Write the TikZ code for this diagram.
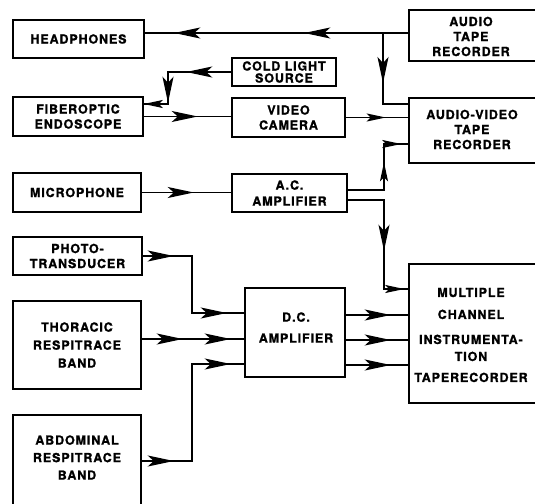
\documentclass[tikz,border=0pt]{standalone}
\usepackage{fontspec}
\newfontfamily\lblfont{TeX Gyre Heros}[LetterSpace=7,FakeBold=1.2]
\usetikzlibrary{arrows.meta,decorations.markings}
\tikzset{
  bigtip/.tip={Stealth[length=26pt,width=11pt,inset=6pt]},
  smalltip/.tip={Stealth[length=19pt,width=8pt,inset=4pt]},
  am/.style={postaction={decorate,decoration={markings,mark=at position #1 with {\arrow{bigtip}}}}},
  as/.style={postaction={decorate,decoration={markings,mark=at position #1 with {\arrow{smalltip}}}}},
  conn/.style={line width=1.5pt},
  box/.style={draw,line width=1.5pt,inner sep=0pt,align=center,
    font=\lblfont\bfseries\fontsize{12.5}{15}\selectfont},
  txt/.style={inner sep=0pt,align=center,
    font=\lblfont\bfseries\fontsize{12.5}{15}\selectfont},
}
\begin{document}
\begin{tikzpicture}[x=1pt,y=-1pt]
\useasboundingbox (0,0) rectangle (535,503);
\clip (0,0) rectangle (535,503);
\fill[white] (0,0) rectangle (535,503);
% boxes
\node[box,minimum width=131pt,minimum height=38pt] (hp) at (78.5,39) {HEADPHONES};
\node[box,minimum width=136pt,minimum height=51pt] (atr) at (477,35.5) {};
\node[txt] (atrt) at (471,36.5) {AUDIO\\TAPE\\RECORDER};
\node[box,minimum width=104pt,minimum height=28pt,font=\lblfont\bfseries\fontsize{12.5}{12}\selectfont] (cls) at (284,72) {COLD LIGHT\\SOURCE};
\node[box,minimum width=130pt,minimum height=39pt] (fo) at (78,116.5) {FIBEROPTIC\\ENDOSCOPE};
\node[box,minimum width=113pt,minimum height=39pt] (vc) at (288.5,117.5) {VIDEO\\CAMERA};
\node[box,minimum width=136pt,minimum height=65pt] (avtr) at (477,130.5) {};
\node[txt] (avtrt) at (472,129.5) {AUDIO-VIDEO\\TAPE\\RECORDER};
\node[box,minimum width=128pt,minimum height=39pt] (mic) at (77,192.5) {MICROPHONE};
\node[box,minimum width=115pt,minimum height=38pt,font=\lblfont\bfseries\fontsize{12.5}{16}\selectfont] (ac) at (289.5,193) {A.C.\\AMPLIFIER};
\node[box,minimum width=129pt,minimum height=38pt] (pt) at (77.5,256) {PHOTO-\\TRANSDUCER};
\node[box,minimum width=128pt,minimum height=88pt,font=\lblfont\bfseries\fontsize{12.5}{18}\selectfont] (th) at (77,345) {THORACIC\\RESPITRACE\\BAND};
\node[box,minimum width=128pt,minimum height=100pt] (ab) at (77,465) {};
\node[txt,font=\lblfont\bfseries\fontsize{12.5}{17.5}\selectfont] (abt) at (77,457.5) {ABDOMINAL\\RESPITRACE\\BAND};
\node[box,minimum width=100pt,minimum height=89pt] (dc) at (295,332.5) {};
\node[txt,font=\lblfont\bfseries\fontsize{12.5}{21}\selectfont] (dct) at (296,327.5) {D.C.\\AMPLIFIER};
\node[box,minimum width=136pt,minimum height=139pt] (mc) at (477,333.5) {};
\node[txt] (mct) at (471,335) {MULTIPLE\\[7pt]CHANNEL\\[10pt]INSTRUMENTA-\\[2pt]TION\\[6pt]TAPERECORDER};
% helper levels
\coordinate (j1) at (383,33);
\coordinate (j2) at (383,104);
\coordinate (c3) at (168,104);
\coordinate (c7) at (384,144);
\coordinate (c8) at (384,289);
\coordinate (y190) at (0,190);
\coordinate (y200) at (0,200);
\coordinate (c9) at (192,313);
\coordinate (y339) at (0,339);
\coordinate (y461) at (0,461);
\coordinate (c11) at (192,364);
\coordinate (y315) at (0,315);
\coordinate (y340) at (0,340);
\coordinate (y365) at (0,365);
% connectors
\draw[conn,am=104pt,am=234pt] (atr.west |- j1) -- (hp.east |- j1);
\draw[conn,am=50pt] (j1) -- (j2) -- (avtr.west |- j2);
\draw[conn,am=45pt,am=94pt,as=1] (cls.west) -| (c3) -- (fo.east |- c3);
\draw[conn,am=54pt] (fo.east) -- (fo.east -| vc.west);
\draw[conn,as=40pt] (vc.east) -- (vc.east -| avtr.west);
\draw[conn,am=52pt] (mic.east) -- (mic.east -| ac.west);
\draw[conn,as=64pt,as=-7pt] (ac.east |- y190) -| (c7) -- (avtr.west |- c7);
\draw[conn,am=87pt,as=-4pt] (ac.east |- y200) -| (c8) -- (mc.west |- c8);
\draw[conn,am=31pt,am=141pt] (pt.east) -| (c9) -- (dc.west |- c9);
\draw[conn,am=41pt,am=89pt] (th.east |- y339) -- (dc.west |- y339);
\draw[conn,am=32pt,am=186pt] (ab.east |- y461) -| (c11) -- (dc.west |- c11);
\draw[conn,am=45pt] (dc.east |- y315) -- (mc.west |- y315);
\draw[conn,am=45pt] (dc.east |- y340) -- (mc.west |- y340);
\draw[conn,am=45pt] (dc.east |- y365) -- (mc.west |- y365);
\end{tikzpicture}
\end{document}
